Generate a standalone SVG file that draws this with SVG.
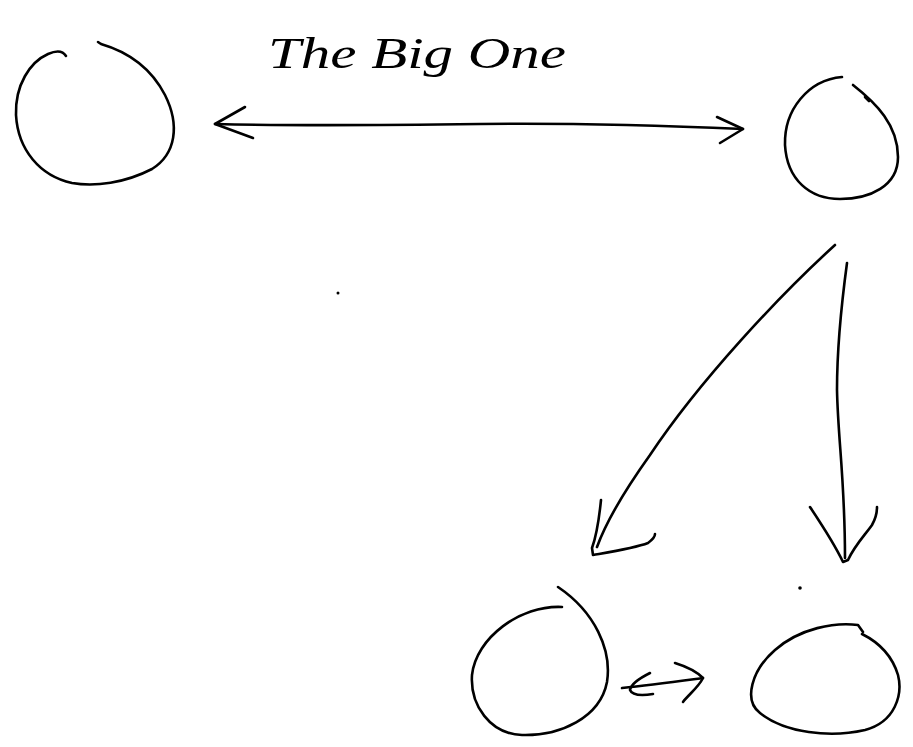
<svg xmlns="http://www.w3.org/2000/svg" width="913" height="747" viewBox="0 0 913 747">
<style>
.ink{fill:none;stroke:#000;stroke-width:2.6;stroke-linecap:round;stroke-linejoin:round}
.title{font-family:"Liberation Serif",serif;font-style:italic;font-size:44px;fill:#000}
</style>
<rect width="913" height="747" fill="#fff"/>
<text class="title" x="268" y="68" textLength="298" lengthAdjust="spacingAndGlyphs">The Big One</text>
<g id="node-left">
<path class="ink" d="M98,42 L101,44 C125,51 150,66 165,95 C180,125 176,154 152,169 C125,183 95,187 72,183 C40,176 18,150 16,115 C15,85 30,62 48,54 C57,50 63,51 66,56"/>
</g>
<g id="node-right-top">
<path class="ink" d="M853,85 C876,103 898,125 898,157 C898,186 870,199 840,199 C810,199 787,180 785,145 C784,110 808,80 842,77"/>
<path class="ink" d="M865,97 L869,101"/>
</g>
<g id="node-bottom-left">
<path class="ink" d="M558,587 C595,612 612,650 607,682 C600,718 560,736 522,735 C490,734 470,705 472,675 C476,638 520,605 562,607"/>
</g>
<g id="node-bottom-right">
<path class="ink" d="M863,632 L858,625 C835,622 800,628 775,650 C752,670 743,700 760,713 C785,733 830,738 865,730 C895,722 903,695 898,675 C892,655 878,642 862,634"/>
</g>
<g id="connectors">
<path class="ink" d="M215,124 C300,126 400,125 480,124 C560,123 650,125 743,129"/>
<path class="ink" d="M245,107 L215,124 L253,138"/>
<path class="ink" d="M717,117 L743,129 L720,143"/>
<path class="ink" d="M835,245 C780,295 700,380 650,455 C625,490 605,525 597,547"/>
<path class="ink" d="M601,500 C599,520 596,537 592,548 L593,555 C610,552 635,548 648,543 C652,540 655,537 655,534"/>
<path class="ink" d="M847,263 C842,300 837,350 837,390 C838,440 845,480 845,558"/>
<path class="ink" d="M810,507 C822,525 835,545 843,562 L848,560 C855,545 865,535 872,525 C876,518 877,510 877,507"/>
<path class="ink" d="M622,688 C650,685 680,681 703,678"/>
<path class="ink" d="M650,673 C640,678 631,684 630,690 C632,695 640,696 653,694"/>
<path class="ink" d="M675,663 C688,667 698,673 703,678 C698,688 688,695 683,702"/>
</g>
<circle cx="338" cy="293" r="1.5" fill="#000"/>
<circle cx="800" cy="588" r="1.8" fill="#000"/>
</svg>
